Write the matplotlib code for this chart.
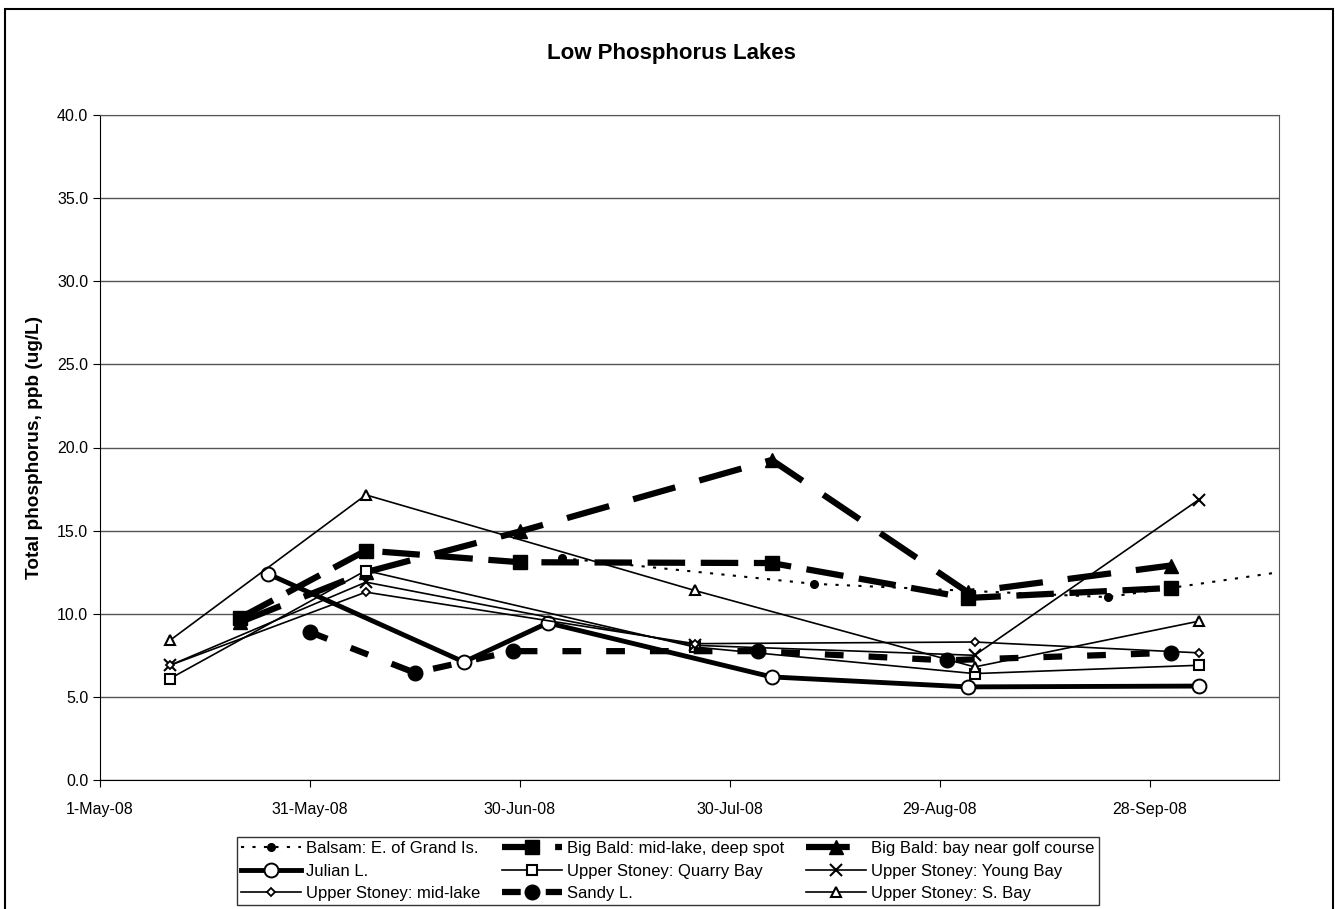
import datetime as dt
import matplotlib
matplotlib.use("Agg")
import matplotlib.pyplot as plt
import matplotlib.dates as mdates
from matplotlib.patches import Rectangle

plt.rcParams['font.family'] = ['Liberation Sans', 'DejaVu Sans']


def d(m, day):
    return dt.date(2008, m, day)


# Balsam: E. of Grand Is. (last point lies past the axis end)
balsam_dates = [d(7, 6), d(8, 11), d(9, 22), d(10, 28)]
balsam_tp = [13.35, 11.8, 11.0, 13.2]

# Big Bald: mid-lake, deep spot
bb_mid_dates = [d(5, 21), d(6, 8), d(6, 30), d(8, 5), d(9, 2), d(10, 1)]
bb_mid_tp = [9.75, 13.8, 13.1, 13.05, 10.95, 11.55]

# Big Bald: bay near golf course
bb_bay_dates = [d(5, 21), d(6, 8), d(6, 30), d(8, 5), d(9, 2), d(10, 1)]
bb_bay_tp = [9.5, 12.5, 14.95, 19.25, 11.3, 12.9]

# Julian L.
julian_dates = [d(5, 25), d(6, 22), d(7, 4), d(8, 5), d(9, 2), d(10, 5)]
julian_tp = [12.4, 7.1, 9.45, 6.2, 5.6, 5.65]

# Upper Stoney sites share sampling dates
us_dates = [d(5, 11), d(6, 8), d(7, 25), d(9, 3), d(10, 5)]
quarry_tp = [6.1, 12.6, 8.0, 6.4, 6.9]
young_tp = [6.9, 11.9, 8.1, 7.5, 16.85]
midlake_tp = [6.9, 11.3, 8.2, 8.3, 7.65]
sbay_tp = [8.4, 17.15, 11.4, 6.8, 9.55]

# Sandy L.
sandy_dates = [d(5, 31), d(6, 15), d(6, 29), d(8, 3), d(8, 30), d(10, 1)]
sandy_tp = [8.9, 6.45, 7.75, 7.75, 7.2, 7.65]

fig = plt.figure(figsize=(13.35, 9.09), dpi=100)
W, H = 1335, 909
ax = fig.add_axes([100 / W, 1 - 780 / H, 1179 / W, 665 / H])

k = 'black'
h_balsam, = ax.plot(balsam_dates, balsam_tp, color=k, lw=1.5, ls=(0, (1.5, 4)),
                    marker='o', ms=5.5, label='Balsam: E. of Grand Is.')
h_bbmid, = ax.plot(bb_mid_dates, bb_mid_tp, color=k, lw=4.5, ls=(0, (6, 2.5)),
                   marker='s', ms=10, label='Big Bald: mid-lake, deep spot')
h_bbbay, = ax.plot(bb_bay_dates, bb_bay_tp, color=k, lw=4.5, ls=(0, (7, 4)),
                   marker='^', ms=10, label='Big Bald: bay near golf course')
h_julian, = ax.plot(julian_dates, julian_tp, color=k, lw=3.5, marker='o', ms=10,
                    mfc='white', mew=1.4, label='Julian L.')
h_quarry, = ax.plot(us_dates, quarry_tp, color=k, lw=1.2, marker='s', ms=6.5,
                    mfc='white', mew=1.5, label='Upper Stoney: Quarry Bay')
h_young, = ax.plot(us_dates, young_tp, color=k, lw=1.2, marker='x', ms=9,
                   mew=1.5, label='Upper Stoney: Young Bay')
h_mid, = ax.plot(us_dates, midlake_tp, color=k, lw=1.2, marker='D', ms=4.5,
                 mfc='white', mew=1.3, label='Upper Stoney: mid-lake')
h_sandy, = ax.plot(sandy_dates, sandy_tp, color=k, lw=4.5, ls=(0, (3, 4)),
                   marker='o', ms=10.5, label='Sandy L.')
h_sbay, = ax.plot(us_dates, sbay_tp, color=k, lw=1.2, marker='^', ms=7.5,
                  mfc='white', mew=1.5, label='Upper Stoney: S. Bay')

x0 = dt.date(2008, 5, 1)
ax.set_xlim(mdates.date2num(x0), mdates.date2num(x0) + 168.5)
ax.set_ylim(0, 40)
ax.set_yticks(range(0, 41, 5))
ax.yaxis.set_major_formatter(plt.FuncFormatter(lambda v, p: f"{v:.1f}"))
xt = [mdates.date2num(x0) + 30 * i for i in range(6)]
ax.set_xticks(xt)
ax.xaxis.set_major_formatter(plt.FuncFormatter(
    lambda v, p: f"{mdates.num2date(v).day}-{mdates.num2date(v).strftime('%b-%y')}"))
ax.tick_params(labelsize=11.5, length=5, direction='out', color=k)
ax.tick_params(axis='x', pad=11)
ax.grid(axis='y', color='#555555', lw=1)
ax.set_axisbelow(True)
for s in ['top', 'right']:
    ax.spines[s].set_color('#555555')
for s in ['left', 'bottom']:
    ax.spines[s].set_color(k)

ax.set_ylabel('Total phosphorus, ppb (ug/L)', fontsize=13.7, fontweight='bold', labelpad=10)
fig.text(671 / W, 1 - 54 / H, 'Low Phosphorus Lakes', ha='center', va='center',
         fontsize=16, fontweight='bold')

# outer chart border
fig.patches.append(Rectangle((5 / W, -0.05), 1328 / W, 1.05 - 9 / H, transform=fig.transFigure,
                             fill=False, ec=k, lw=1.5))

handles = [h_balsam, h_julian, h_mid, h_bbmid, h_quarry, h_sandy, h_bbbay, h_young, h_sbay]
leg = fig.legend(handles=handles, loc='upper left', bbox_to_anchor=(237 / W, 1 - 837 / H),
                 ncol=3, fontsize=12, frameon=True, fancybox=False, edgecolor=k,
                 handlelength=3.6, handletextpad=0.3, columnspacing=1.3, labelspacing=0.45,
                 borderpad=0.25, borderaxespad=0)
leg.get_frame().set_linewidth(1)

fig.savefig('out.png', dpi=100)
